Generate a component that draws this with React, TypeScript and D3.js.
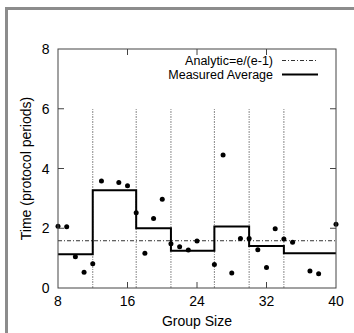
import React from "react";
import * as d3 from "d3";

const groupSizes = [8, 9, 10, 11, 12, 13, 15, 16, 17, 18, 19, 20, 21, 22, 23, 24, 26, 27, 28, 29, 30, 31, 32, 33, 34, 35, 37, 38, 40];
const measuredTimes = [2.07, 2.05, 1.05, 0.53, 0.81, 3.58, 3.53, 3.42, 2.52, 1.16, 2.33, 2.97, 1.48, 1.38, 1.27, 1.57, 0.79, 4.45, 0.5, 1.66, 1.66, 1.28, 0.69, 1.98, 1.64, 1.53, 0.57, 0.48, 2.13];
const stepBounds = [8, 12, 17, 21, 26, 30, 34, 40];
const stepLevels = [1.13, 3.27, 2.0, 1.25, 2.06, 1.41, 1.16];
const xTicks = [8, 16, 24, 32, 40];
const yTicks = [0, 2, 4, 6, 8];
const analytic = Math.E / (Math.E - 1);

export default function App() {
  const W = 354, H = 333;
  const L = 58, R = 336, T = 49, B = 288;
  const x = d3.scaleLinear().domain([8, 40]).range([L, R]);
  const y = d3.scaleLinear().domain([0, 8]).range([B, T]);
  const stepPts: [number, number][] = stepLevels.map((v, i) => [stepBounds[i], v]);
  stepPts.push([stepBounds[stepBounds.length - 1], stepLevels[stepLevels.length - 1]]);
  const stepPath = d3.line<[number, number]>().x(d => x(d[0])).y(d => y(d[1])).curve(d3.curveStepAfter)(stepPts) || "";
  const font = "'Liberation Sans', Arial, Helvetica, sans-serif";
  const inner = stepBounds.slice(1, -1);
  return (
    <svg width={W} height={H} style={{ position: "absolute", left: 0, top: 0, background: "#fff" }} fontFamily={font}>
      <rect x={0} y={0} width={W} height={H} fill="#fff" />
      <rect x={5} y={7} width={W - 5} height={3} fill="#8c8c8c" />
      <rect x={5} y={7} width={3} height={H - 7} fill="#8c8c8c" />
      {inner.map(b => (
        <line key={b} x1={x(b)} x2={x(b)} y1={y(0)} y2={y(6)} stroke="#888" strokeWidth={1} strokeDasharray="2,1,1,1" />
      ))}
      <line x1={L} x2={R} y1={y(analytic)} y2={y(analytic)} stroke="#333" strokeWidth={1} strokeDasharray="4,2,1,2" />
      <path d={stepPath} fill="none" stroke="#000" strokeWidth={2} />
      {groupSizes.map((g, i) => (
        <circle key={i} cx={x(g)} cy={y(measuredTimes[i])} r={2.5} fill="#000" />
      ))}
      <rect x={L} y={T} width={R - L} height={B - T} fill="none" stroke="#444" strokeWidth={1} />
      {xTicks.map(t => (
        <g key={t}>
          {t !== 8 && t !== 40 && (
            <>
              <line x1={x(t)} x2={x(t)} y1={B} y2={B - 6} stroke="#444" />
              <line x1={x(t)} x2={x(t)} y1={T} y2={T + 6} stroke="#444" />
            </>
          )}
          <text x={x(t)} y={306} textAnchor="middle" fontSize={14} fill="#000">{t}</text>
        </g>
      ))}
      {yTicks.map(t => (
        <g key={t}>
          {t !== 0 && t !== 8 && (
            <>
              <line x1={L} x2={L + 6} y1={y(t)} y2={y(t)} stroke="#444" />
              <line x1={R} x2={R - 6} y1={y(t)} y2={y(t)} stroke="#444" />
            </>
          )}
          <text x={49.5} y={y(t) + 5} textAnchor="end" fontSize={14} fill="#000">{t}</text>
        </g>
      ))}
      <text x={(L + R) / 2} y={326} textAnchor="middle" fontSize={14} fill="#000">Group Size</text>
      <text transform={`translate(31,${(T + B) / 2}) rotate(-90)`} textAnchor="middle" fontSize={14} fill="#000">Time (protocol periods)</text>
      <text x={273} y={64.5} textAnchor="end" fontSize={12.5} fill="#000">Analytic=e/(e-1)</text>
      <line x1={282} x2={318} y1={60.5} y2={60.5} stroke="#333" strokeWidth={1} strokeDasharray="4,2,1,2" />
      <text x={273} y={79} textAnchor="end" fontSize={12.5} fill="#000">Measured Average</text>
      <line x1={282} x2={318} y1={74.5} y2={74.5} stroke="#000" strokeWidth={2} />
    </svg>
  );
}
